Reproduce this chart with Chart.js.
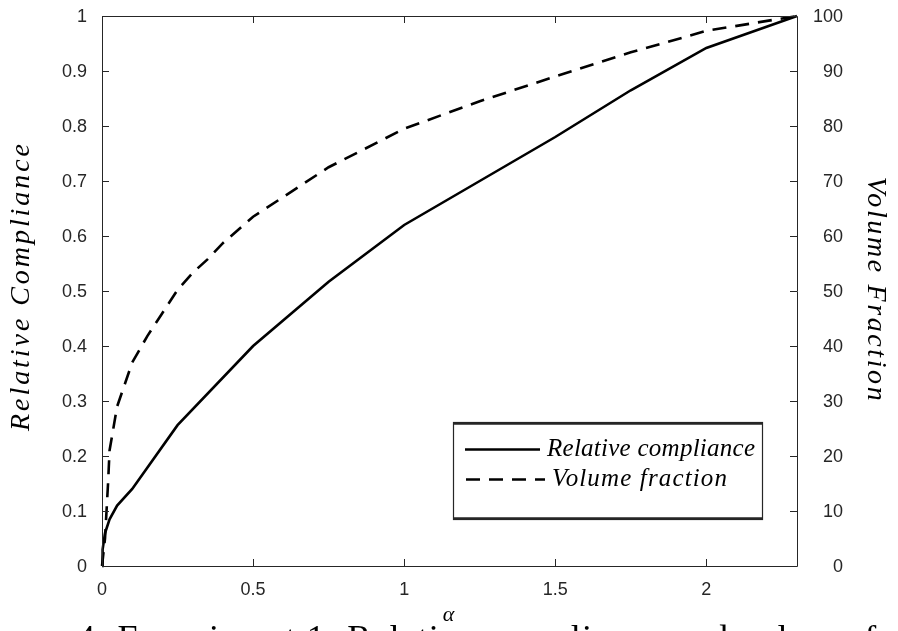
<!DOCTYPE html>
<html>
<head>
<meta charset="utf-8">
<script src="https://cdn.jsdelivr.net/npm/chart.js@4"></script>
<style>
html,body{margin:0;padding:0;background:#fff;overflow:hidden}
#c{display:block}
</style>
</head>
<body>
<canvas id="c" width="898" height="631"></canvas>
<script>
// ---- data ----
const alphaCompliance = [0, 0.002, 0.01, 0.025, 0.05, 0.1, 0.25, 0.5, 0.75, 1, 1.25, 1.5, 1.75, 2, 2.3];
const relativeCompliance = [0, 0.03, 0.06, 0.085, 0.11, 0.14, 0.256, 0.40, 0.517, 0.62, 0.70, 0.78, 0.865, 0.942, 1.0];
const alphaVolume = [0, 0.01, 0.02, 0.025, 0.05, 0.1, 0.15, 0.2, 0.25, 0.3, 0.35, 0.4, 0.5, 0.75, 1, 1.25, 1.5, 1.75, 2, 2.3];
const volumeFraction = [0, 5, 15, 21, 29, 37, 41.8, 46, 50.2, 53.3, 55.8, 58.7, 63.5, 72.5, 79.5, 84.5, 89, 93.4, 97.3, 100];
const xTicks = [0, 0.5, 1, 1.5, 2];
const leftTicks = [0, 0.1, 0.2, 0.3, 0.4, 0.5, 0.6, 0.7, 0.8, 0.9, 1];
const rightTicks = [0, 10, 20, 30, 40, 50, 60, 70, 80, 90, 100];
const seriesLabels = ['Relative compliance', 'Volume fraction'];
const xTitle = 'α';
const leftTitle = 'Relative Compliance';
const rightTitle = 'Volume Fraction';
const caption = '4: Experiment 1: Relative compliance and volume fraction';

const AXIS = '#262626';
const tickFont = {family: '"Liberation Sans", Arial, sans-serif', size: 18};
const SERIF = '"Liberation Serif", "Times New Roman", serif';

function fitSpacing(ctx, text, font, width) {
  ctx.font = font;
  ctx.letterSpacing = '0px';
  const w = ctx.measureText(text).width;
  const ls = (width - w) / Math.max(1, text.length - 1);
  ctx.letterSpacing = ls + 'px';
}
function noPad(s) { s.paddingTop = 0; s.paddingBottom = 0; s.paddingLeft = 0; s.paddingRight = 0; }

const decorPlugin = {
  id: 'decor',
  afterDraw(chart) {
    const ctx = chart.ctx;
    const a = chart.chartArea;
    const sx = chart.scales.x, sy = chart.scales.y, sy1 = chart.scales.y1;
    ctx.save();
    // box
    ctx.strokeStyle = AXIS;
    ctx.lineWidth = 1;
    ctx.beginPath();
    ctx.rect(Math.round(a.left) + 0.5, Math.round(a.top) + 0.5, Math.round(a.right - a.left), Math.round(a.bottom - a.top));
    ctx.stroke();
    // inward ticks
    const TL = 7;
    ctx.beginPath();
    xTicks.forEach(v => {
      const px = Math.round(sx.getPixelForValue(v)) + 0.5;
      ctx.moveTo(px, a.bottom); ctx.lineTo(px, a.bottom - TL);
      ctx.moveTo(px, a.top); ctx.lineTo(px, a.top + TL);
    });
    leftTicks.forEach(v => {
      const py = Math.round(sy.getPixelForValue(v)) + 0.5;
      ctx.moveTo(a.left, py); ctx.lineTo(a.left + TL, py);
    });
    rightTicks.forEach(v => {
      const py = Math.round(sy1.getPixelForValue(v)) + 0.5;
      ctx.moveTo(a.right, py); ctx.lineTo(a.right - TL, py);
    });
    ctx.stroke();

    // legend
    const lx = 453.5, ly = 422.5, lw = 309, lh = 97;
    ctx.fillStyle = '#fff';
    ctx.fillRect(lx, ly, lw, lh);
    ctx.strokeStyle = '#262626';
    ctx.lineWidth = 1.2;
    ctx.strokeRect(lx, ly, lw, lh);
    ctx.lineWidth = 2.4;
    ctx.beginPath();
    ctx.moveTo(lx, ly + 1); ctx.lineTo(lx + lw, ly + 1);
    ctx.moveTo(lx, ly + lh - 1); ctx.lineTo(lx + lw, ly + lh - 1);
    ctx.stroke();
    const rows = [{y: 449.5, x0: 465, x1: 540, tx: 547, tw: 208}, {y: 479.5, x0: 466, x1: 545, tx: 552, tw: 175}];
    chart.data.datasets.forEach((ds, i) => {
      const r = rows[i];
      ctx.strokeStyle = ds.borderColor;
      ctx.lineWidth = ds.borderWidth;
      ctx.setLineDash(ds.borderDash || []);
      ctx.beginPath();
      ctx.moveTo(r.x0, r.y); ctx.lineTo(r.x1, r.y);
      ctx.stroke();
      ctx.setLineDash([]);
      ctx.fillStyle = '#000';
      fitSpacing(ctx, ds.label, 'italic 25px ' + SERIF, r.tw);
      ctx.textAlign = 'left';
      ctx.textBaseline = 'alphabetic';
      ctx.fillText(ds.label, r.tx, r.y + 6);
      ctx.letterSpacing = '0px';
    });

    // axis titles
    ctx.fillStyle = '#000';
    ctx.textAlign = 'center';
    ctx.textBaseline = 'alphabetic';
    ctx.save();
    ctx.translate(29, 286);
    ctx.rotate(-Math.PI / 2);
    fitSpacing(ctx, leftTitle, 'italic 28px ' + SERIF, 287);
    ctx.fillText(leftTitle, 0, 0);
    ctx.restore();
    ctx.save();
    ctx.translate(868, 290);
    ctx.rotate(Math.PI / 2);
    fitSpacing(ctx, rightTitle, 'italic 28px ' + SERIF, 224);
    ctx.fillText(rightTitle, 0, 0);
    ctx.restore();
    ctx.letterSpacing = '0px';
    ctx.font = 'italic 22px ' + SERIF;
    ctx.fillText(xTitle, (a.left + a.right) / 2 - 1, 621);

    // caption (cut off by the bottom edge)
    ctx.textAlign = 'left';
    const prefix = '4: Experiment 1: Relative compliance and volume ';
    fitSpacing(ctx, prefix, '36px ' + SERIF, 786);
    ctx.fillText(caption, 77, 650);
    ctx.letterSpacing = '0px';
    ctx.restore();
  }
};

new Chart(document.getElementById('c'), {
  type: 'line',
  data: {
    datasets: [
      {
        label: seriesLabels[0],
        data: alphaCompliance.map((x, i) => ({x, y: relativeCompliance[i]})),
        yAxisID: 'y',
        borderColor: '#000',
        borderWidth: 2.6,
        pointRadius: 0,
        tension: 0,
        fill: false,
        clip: 6
      },
      {
        label: seriesLabels[1],
        data: alphaVolume.map((x, i) => ({x, y: volumeFraction[i]})),
        yAxisID: 'y1',
        borderColor: '#000',
        borderWidth: 2.6,
        borderDash: [14, 9],
        pointRadius: 0,
        tension: 0,
        fill: false,
        clip: 6
      }
    ]
  },
  options: {
    responsive: false,
    animation: false,
    events: [],
    layout: {padding: {left: 50, right: 55, top: 16, bottom: 0}},
    plugins: {legend: {display: false}, tooltip: {enabled: false}},
    scales: {
      x: {
        type: 'linear', min: 0, max: 2.3,
        afterBuildTicks: s => { s.ticks = xTicks.map(v => ({value: v})); },
        afterFit: s => { s.height = 65; noPad(s); },
        grid: {display: false, drawTicks: false},
        border: {display: false},
        ticks: {font: tickFont, color: AXIS, padding: 13, maxRotation: 0, autoSkip: false, callback: v => String(v)}
      },
      y: {
        type: 'linear', position: 'left', min: 0, max: 1,
        afterBuildTicks: s => { s.ticks = leftTicks.map(v => ({value: v})); },
        afterFit: s => { s.width = 52; noPad(s); },
        grid: {display: false, drawTicks: false},
        border: {display: false},
        ticks: {font: tickFont, color: AXIS, padding: 15, autoSkip: false, labelOffset: 1, callback: v => String(v)}
      },
      y1: {
        type: 'linear', position: 'right', min: 0, max: 100,
        afterBuildTicks: s => { s.ticks = rightTicks.map(v => ({value: v})); },
        afterFit: s => { s.width = 46; noPad(s); },
        grid: {display: false, drawTicks: false},
        border: {display: false},
        ticks: {font: tickFont, color: AXIS, padding: 15, crossAlign: 'far', autoSkip: false, labelOffset: 1, callback: v => String(v)}
      }
    }
  },
  plugins: [decorPlugin]
});
</script>
</body>
</html>
